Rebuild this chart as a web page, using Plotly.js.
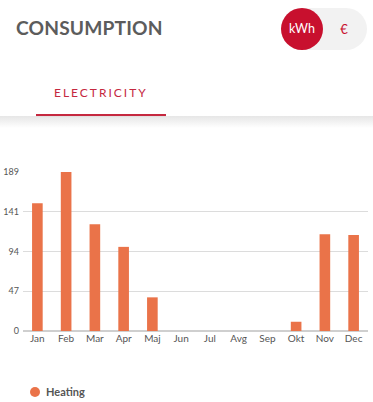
<!DOCTYPE html>
<html><head><meta charset="utf-8">
<script src="https://cdn.plot.ly/plotly-3.0.1.min.js"></script>
<style>
html,body{margin:0;padding:0;background:#fff;width:373px;height:402px;overflow:hidden;font-family:Lato,"Open Sans",sans-serif;}
#chart{position:absolute;left:0;top:0;width:373px;height:402px;}
.ov{position:absolute;pointer-events:none;white-space:nowrap;}
#title{left:16px;top:16px;font-size:19.2px;font-weight:700;color:#5c5c5c;letter-spacing:0.15px;}
#pill{left:281px;top:8px;width:86px;height:42px;border-radius:21px;background:#f2f2f2;}
#kwh{left:281px;top:8px;width:42px;height:42px;border-radius:21px;background:#c8102e;color:#fff;font-size:12.5px;line-height:42px;text-align:center;}
#eur{left:336px;top:8px;width:16px;height:42px;color:#c8102e;font-size:13px;line-height:42px;text-align:center;}
#tab{left:54px;top:85px;font-size:12px;color:#c5283f;letter-spacing:2px;font-weight:400;}
#uline{left:36px;top:114px;width:130px;height:2.5px;background:#c5283f;}
#shadow{left:0;top:116px;width:373px;height:12px;background:linear-gradient(#e6e6e6,rgba(255,255,255,0));}
#leg{left:30px;top:385px;font-size:11px;font-weight:700;color:#555;}
#leg .dot{display:inline-block;width:10px;height:10px;border-radius:5px;background:#ea7349;vertical-align:middle;margin-right:6px;position:relative;top:-1px;}
</style></head>
<body>
<div id="chart"></div>
<div class="ov" id="title">CONSUMPTION</div>
<div class="ov" id="pill"></div>
<div class="ov" id="kwh">kWh</div>
<div class="ov" id="eur">€</div>
<div class="ov" id="tab">ELECTRICITY</div>
<div class="ov" id="uline"></div>
<div class="ov" id="shadow"></div>
<div class="ov" id="leg"><span class="dot"></span><span id="legname"></span></div>
<script>
const months = ["Jan","Feb","Mar","Apr","Maj","Jun","Jul","Avg","Sep","Okt","Nov","Dec"];
const heating = [152, 189, 127, 100, 40, 0, 0, 0, 0, 11, 115, 114];
const seriesName = "Heating";
const yTickVals = [0, 47.25, 94.5, 141.75, 189];
const yTickText = ["0","47","94","141","189"];
const barColor = "#ea7349";

document.getElementById("legname").textContent = seriesName;

const trace = {
  type: "bar",
  x: months,
  y: heating,
  name: seriesName,
  marker: {color: barColor, line: {width: 0}},
  showlegend: false,
  hoverinfo: "none"
};
const layout = {
  width: 373, height: 402,
  margin: {l: 23, r: 5, t: 172, b: 71, pad: 0},
  paper_bgcolor: "rgba(0,0,0,0)",
  plot_bgcolor: "#fff",
  bargap: 0.63,
  showlegend: false,
  font: {family: "Lato, 'Open Sans', sans-serif", color: "#555", size: 9.5},
  xaxis: {
    type: "category",
    showgrid: false,
    showline: false,
    zeroline: false,
    ticks: "",
    tickfont: {size: 10, color: "#555"},
    fixedrange: true
  },
  yaxis: {
    range: [0, 189],
    tickvals: yTickVals,
    ticktext: yTickText,
    showgrid: true,
    gridcolor: "#dcdcdc",
    gridwidth: 1,
    zeroline: true,
    zerolinecolor: "#cfcfcf",
    zerolinewidth: 1.5,
    showline: false,
    ticks: "",
    ticklabelstandoff: 3,
    tickfont: {size: 9, color: "#555"},
    fixedrange: true
  }
};
Plotly.newPlot("chart", [trace], layout, {displayModeBar: false, staticPlot: true});
</script>
</body></html>
